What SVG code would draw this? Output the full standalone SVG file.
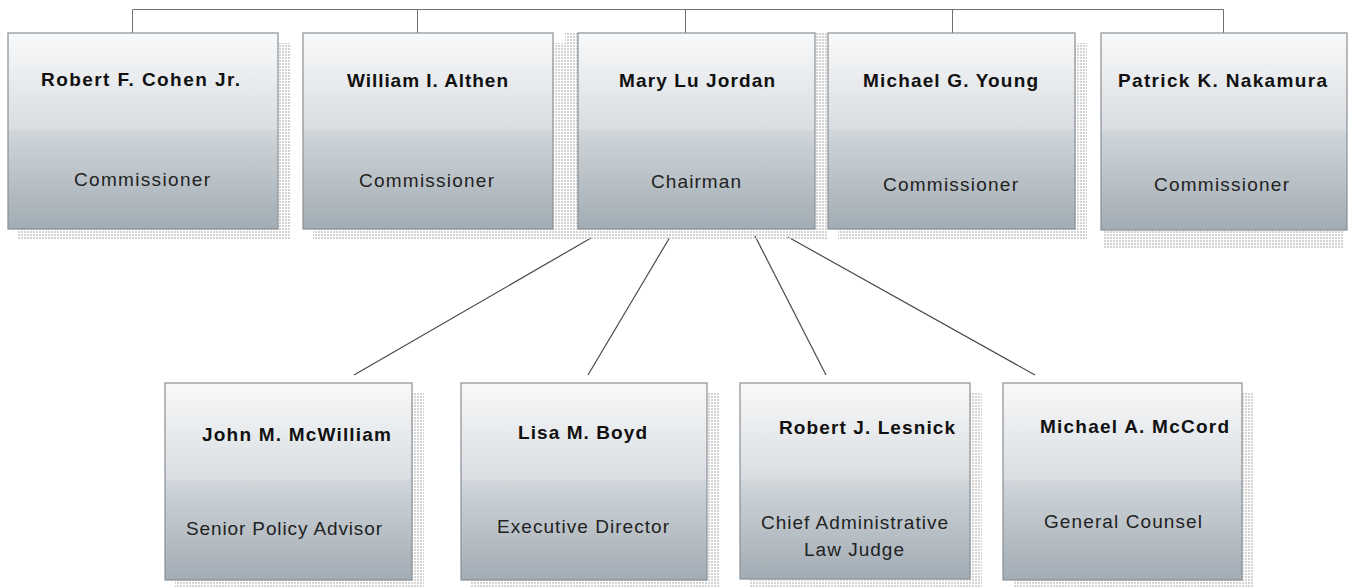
<svg xmlns="http://www.w3.org/2000/svg" width="1352" height="587" viewBox="0 0 1352 587">
  <defs>
    <linearGradient id="boxFill" x1="0" y1="0" x2="0" y2="1">
      <stop offset="0" stop-color="#f8f9fa"/>
      <stop offset="0.49" stop-color="#d9dde1"/>
      <stop offset="0.5" stop-color="#d0d6da"/>
      <stop offset="1" stop-color="#a2acb4"/>
    </linearGradient>
    <pattern id="halftone" width="3" height="3" patternUnits="userSpaceOnUse">
      <rect x="0" y="0" width="2" height="2" fill="#d4d4d4"/>
    </pattern>
    <style>
      .card { fill: url(#boxFill); stroke: #8a8f93; stroke-width: 1.2; }
      .shadow { fill: url(#halftone); }
      .name { font-family: "Liberation Sans", Arial, sans-serif; font-weight: bold; font-size: 19px; fill: #111; }
      .role { font-family: "Liberation Sans", Arial, sans-serif; font-size: 19px; fill: #222; }
      .bus { fill: none; stroke: #707070; stroke-width: 1; }
      .link { fill: none; stroke: #4a4a4a; stroke-width: 1.2; }
    </style>
  </defs>
  <rect width="1352" height="587" fill="#ffffff"/>

  <g id="connectors">
    <path class="bus" d="M132.5 33 V9.5 H1223.5 V33 M417.5 9.5 V33 M685.5 9.5 V33 M952.5 9.5 V33"/>
    <line class="link" x1="591" y1="238" x2="354" y2="375"/>
    <line class="link" x1="670" y1="237" x2="588" y2="375"/>
    <line class="link" x1="755" y1="236" x2="826" y2="375"/>
    <line class="link" x1="788" y1="237" x2="1035" y2="375"/>
  </g>

  <g id="cohen">
    <rect class="shadow" x="18" y="43" width="272" height="197"/>
    <rect class="card" x="8" y="33" width="270" height="196"/>
    <text class="name" x="41" y="86" textLength="199" lengthAdjust="spacing">Robert F. Cohen Jr.</text>
    <text class="role" x="74" y="186" textLength="136" lengthAdjust="spacing">Commissioner</text>
  </g>

  <g id="althen">
    <rect class="shadow" x="313" y="43" width="252" height="197"/>
    <rect class="card" x="303" y="33" width="250" height="196"/>
    <text class="name" x="347" y="87" textLength="161" lengthAdjust="spacing">William I. Althen</text>
    <text class="role" x="359" y="187" textLength="135" lengthAdjust="spacing">Commissioner</text>
  </g>

  <g id="jordan">
    <rect class="shadow" x="565" y="33" width="262" height="207"/>
    <rect class="card" x="578" y="33" width="237" height="196"/>
    <text class="name" x="619" y="87" textLength="156" lengthAdjust="spacing">Mary Lu Jordan</text>
    <text class="role" x="651" y="188" textLength="90" lengthAdjust="spacing">Chairman</text>
  </g>

  <g id="young">
    <rect class="shadow" x="838" y="43" width="249" height="197"/>
    <rect class="card" x="828" y="33" width="247" height="196"/>
    <text class="name" x="863" y="87" textLength="175" lengthAdjust="spacing">Michael G. Young</text>
    <text class="role" x="883" y="191" textLength="135" lengthAdjust="spacing">Commissioner</text>
  </g>

  <g id="nakamura">
    <rect class="shadow" x="1104" y="43" width="240" height="205"/>
    <rect class="card" x="1101" y="33" width="246" height="197"/>
    <text class="name" x="1118" y="87" textLength="209" lengthAdjust="spacing">Patrick K. Nakamura</text>
    <text class="role" x="1154" y="191" textLength="135" lengthAdjust="spacing">Commissioner</text>
  </g>

  <g id="mcwilliam">
    <rect class="shadow" x="175" y="393" width="249" height="195"/>
    <rect class="card" x="165" y="383" width="247" height="197"/>
    <text class="name" x="202" y="441" textLength="189" lengthAdjust="spacing">John M. McWilliam</text>
    <text class="role" x="186" y="535" textLength="196" lengthAdjust="spacing">Senior Policy Advisor</text>
  </g>

  <g id="boyd">
    <rect class="shadow" x="471" y="393" width="248" height="195"/>
    <rect class="card" x="461" y="383" width="246" height="197"/>
    <text class="name" x="518" y="439" textLength="129" lengthAdjust="spacing">Lisa M. Boyd</text>
    <text class="role" x="497" y="533" textLength="172" lengthAdjust="spacing">Executive Director</text>
  </g>

  <g id="lesnick">
    <rect class="shadow" x="750" y="393" width="232" height="195"/>
    <rect class="card" x="740" y="383" width="230" height="196"/>
    <text class="name" x="779" y="434" textLength="176" lengthAdjust="spacing">Robert J. Lesnick</text>
    <text class="role" x="761" y="529" textLength="187" lengthAdjust="spacing">Chief Administrative</text>
    <text class="role" x="804" y="556" textLength="100" lengthAdjust="spacing">Law Judge</text>
  </g>

  <g id="mccord">
    <rect class="shadow" x="1013" y="393" width="241" height="195"/>
    <rect class="card" x="1003" y="383" width="239" height="197"/>
    <text class="name" x="1040" y="433" textLength="189" lengthAdjust="spacing">Michael A. McCord</text>
    <text class="role" x="1044" y="528" textLength="158" lengthAdjust="spacing">General Counsel</text>
  </g>
</svg>
